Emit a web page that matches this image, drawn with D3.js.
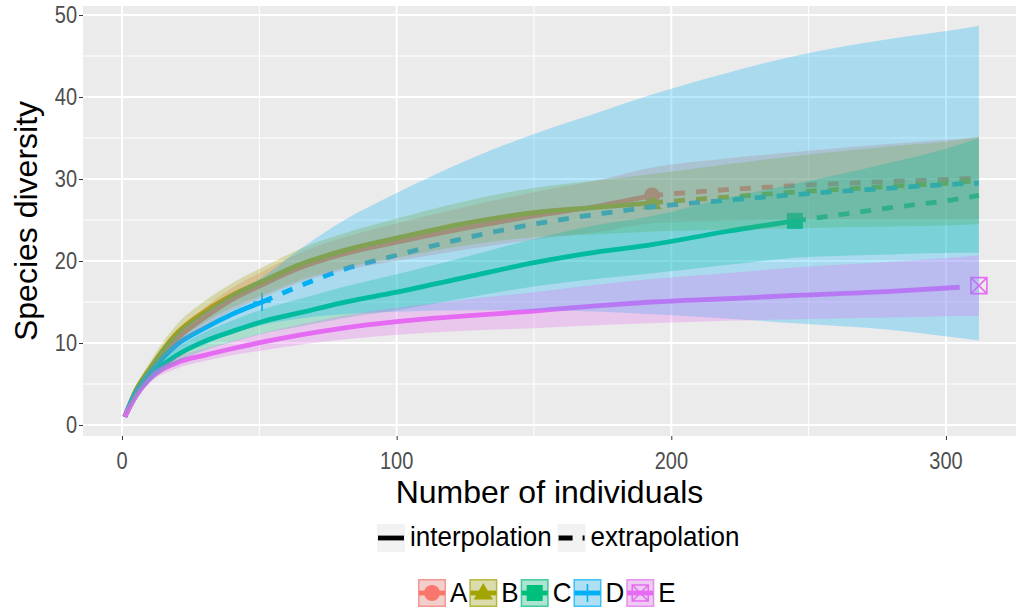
<!DOCTYPE html>
<html>
<head>
<meta charset="utf-8">
<script src="https://cdn.jsdelivr.net/npm/d3@7"></script>
<style>
  body { margin: 0; background: #fff; }
  text { font-family: "Liberation Sans", Arial, Helvetica, sans-serif; }
</style>
</head>
<body>
<svg id="chart" width="1016" height="615"></svg>
<script>
// sample sizes (number of individuals) shared by every site
var sizes = [1, 5, 10, 20, 30, 40, 51, 65, 80, 100, 125, 150, 175, 193, 220, 245, 280, 305, 312];

var sites = ["A", "B", "C", "D", "E"];
var colors = ["#F8766D", "#A3A500", "#00BF7D", "#00B0F6", "#E76BF3"];

// observed (reference) sample for each site
var observedSize = [193, 193, 245, 51, 312];
var observedDiv = [28.0, 27.1, 24.9, 15.0, 17.0];

// estimated diversity and its confidence band
var estA = [1, 4.0, 6.5, 10.5, 13.1, 15.3, 17.1, 19.2, 20.8, 22.3, 24.0, 25.5, 26.8, 28.0, 28.7, 29.2, 29.7, 30.0, 30.1];
var loA  = [1, 3.6, 5.8, 9.5, 11.9, 13.9, 15.5, 17.4, 18.8, 20.0, 21.4, 22.6, 23.6, 24.6, 24.9, 25.1, 25.1, 25.1, 25.1];
var hiA  = [1, 4.4, 7.2, 11.5, 14.3, 16.7, 18.7, 21.0, 22.8, 24.6, 26.6, 28.4, 30.0, 31.4, 32.5, 33.3, 34.3, 34.9, 35.1];

var estB = [1, 4.2, 6.8, 11.2, 13.8, 15.8, 17.5, 19.6, 21.2, 22.8, 24.6, 25.9, 26.6, 27.1, 27.8, 28.4, 29.1, 29.6, 29.8];
var loB  = [1, 3.8, 6.0, 10.1, 12.5, 14.3, 15.8, 17.7, 19.1, 20.4, 21.9, 22.9, 23.3, 23.6, 23.8, 24.0, 24.2, 24.4, 24.5];
var hiB  = [1, 4.6, 7.6, 12.3, 15.1, 17.3, 19.2, 21.5, 23.3, 25.2, 27.3, 28.9, 29.9, 30.6, 31.8, 32.8, 34.0, 34.8, 35.2];

var estC = [1, 3.5, 5.8, 8.5, 10.2, 11.4, 12.6, 13.7, 14.9, 16.2, 18.0, 19.8, 21.2, 22.0, 23.6, 24.9, 26.5, 27.6, 28.0];
var loC  = [1, 3.2, 5.2, 7.6, 9.1, 10.1, 11.1, 12.0, 13.0, 14.0, 15.5, 16.9, 17.9, 18.5, 19.5, 20.4, 20.8, 21.0, 21.0];
var hiC  = [1, 3.8, 6.4, 9.4, 11.3, 12.7, 14.1, 15.4, 16.8, 18.4, 20.5, 22.7, 24.5, 25.5, 27.7, 29.4, 32.0, 34.2, 35.0];

var estD = [1, 4.0, 6.3, 9.8, 11.8, 13.5, 15.0, 17.0, 18.9, 20.7, 22.8, 24.5, 25.8, 26.6, 27.4, 28.1, 28.9, 29.4, 29.5];
var loD  = [1, 3.5, 5.4, 8.3, 9.8, 11.1, 12.2, 13.0, 13.5, 13.8, 14.0, 14.0, 13.8, 13.5, 13.0, 12.4, 11.6, 10.6, 10.3];
var hiD  = [1, 4.5, 7.2, 11.3, 13.8, 16.0, 18.0, 21.5, 24.8, 28.3, 32.2, 35.5, 38.3, 40.3, 42.9, 45.0, 47.1, 48.3, 48.7];

var estE = [1, 3.5, 5.6, 7.6, 8.5, 9.3, 10.1, 11.0, 11.8, 12.6, 13.3, 13.9, 14.6, 15.0, 15.4, 15.8, 16.3, 16.8, null];
var loE  = [1, 3.2, 5.1, 6.9, 7.8, 8.5, 9.1, 9.8, 10.4, 11.0, 11.5, 11.8, 12.2, 12.4, 12.7, 12.9, 13.1, 13.3, 13.3];
var hiE  = [1, 3.8, 6.1, 8.3, 9.3, 10.2, 11.2, 12.3, 13.3, 14.3, 15.3, 16.2, 17.2, 17.8, 18.5, 19.2, 19.9, 20.5, 20.7];

var xTicks = [0, 100, 200, 300];
var yTicks = [0, 10, 20, 30, 40, 50];
var xMinor = [50, 150, 250];
var yMinor = [5, 15, 25, 35, 45];
var methods = ["interpolation", "extrapolation"];

var est = [estA, estB, estC, estD, estE];
var lo = [loA, loB, loC, loD, loE];
var hi = [hiA, hiB, hiC, hiD, hiE];

var panel = {left: 83, right: 1016, top: 6, bottom: 436};
var bandAlpha = 0.28;
var lineWidth = 4.8;
var tall = 1.08;     // the source picture is a little stretched vertically
var tallTick = 1.15;

var svg = d3.select("#chart");
var x = d3.scaleLinear().domain([-14.2, 325.5]).range([panel.left, panel.right]);
var y = d3.scaleLinear().domain([-1.34, 51.1]).range([panel.bottom, panel.top]);

svg.append("defs").append("clipPath").attr("id", "clip")
   .append("rect").attr("x", panel.left).attr("y", panel.top)
   .attr("width", panel.right - panel.left).attr("height", panel.bottom - panel.top);

// panel background + grid
svg.append("rect").attr("x", panel.left).attr("y", panel.top)
   .attr("width", panel.right - panel.left).attr("height", panel.bottom - panel.top)
   .attr("fill", "#EBEBEB");

var grid = svg.append("g");
grid.selectAll(".xminor").data(xMinor).enter().append("line")
    .attr("x1", d => x(d)).attr("x2", d => x(d)).attr("y1", panel.top).attr("y2", panel.bottom)
    .attr("stroke", "#fff").attr("stroke-width", 1);
grid.selectAll(".yminor").data(yMinor).enter().append("line")
    .attr("y1", d => y(d)).attr("y2", d => y(d)).attr("x1", panel.left).attr("x2", panel.right)
    .attr("stroke", "#fff").attr("stroke-width", 1);
grid.selectAll(".xmajor").data(xTicks).enter().append("line")
    .attr("x1", d => x(d)).attr("x2", d => x(d)).attr("y1", panel.top).attr("y2", panel.bottom)
    .attr("stroke", "#fff").attr("stroke-width", 2);
grid.selectAll(".ymajor").data(yTicks).enter().append("line")
    .attr("y1", d => y(d)).attr("y2", d => y(d)).attr("x1", panel.left).attr("x2", panel.right)
    .attr("stroke", "#fff").attr("stroke-width", 2);

// markers for one site
function drawShape(g, i, cx, cy) {
  var c = colors[i];
  if (i === 0) {
    g.append("circle").attr("cx", cx).attr("cy", cy).attr("r", 8).attr("fill", c);
  } else if (i === 1) {
    g.append("path").attr("d", d3.symbol(d3.symbolTriangle, 160)())
     .attr("transform", "translate(" + cx + "," + (cy + 1) + ")").attr("fill", c);
  } else if (i === 2) {
    g.append("rect").attr("x", cx - 8).attr("y", cy - 8).attr("width", 16).attr("height", 16).attr("fill", c);
  } else if (i === 3) {
    g.append("path").attr("d", "M" + (cx - 9) + "," + cy + "H" + (cx + 9) + "M" + cx + "," + (cy - 9) + "V" + (cy + 9))
     .attr("stroke", c).attr("stroke-width", 1.6).attr("fill", "none");
  } else {
    g.append("path")
     .attr("d", "M" + (cx - 8) + "," + (cy - 8) + "h16v16h-16z" +
                "M" + (cx - 8) + "," + (cy - 8) + "l16,16M" + (cx + 8) + "," + (cy - 8) + "l-16,16")
     .attr("stroke", c).attr("stroke-width", 1.6).attr("fill", "none");
  }
}

var plot = svg.append("g").attr("clip-path", "url(#clip)");

// reference points first (ribbons are painted over them, as in the original)
var pts = plot.append("g");
sites.forEach(function(s, i) {
  drawShape(pts, i, x(observedSize[i]), y(observedDiv[i]));
});

// interpolation / extrapolation lines
var line = d3.line()
  .defined(d => d.v !== null)
  .x(d => x(d.n)).y(d => y(d.v))
  .curve(d3.curveMonotoneX);

sites.forEach(function(s, i) {
  var rows = sizes.map((n, k) => ({n: n, v: est[i][k]}));
  var inter = rows.filter(d => d.n <= observedSize[i] && d.v !== null);
  var extra = rows.filter(d => d.n >= observedSize[i] && d.v !== null);
  plot.append("path").attr("d", line(inter))
      .attr("fill", "none").attr("stroke", colors[i]).attr("stroke-width", lineWidth);
  if (extra.length > 1) {
    plot.append("path").attr("d", line(extra))
        .attr("fill", "none").attr("stroke", colors[i]).attr("stroke-width", lineWidth)
        .attr("stroke-dasharray", "11,11");
  }
});

// confidence ribbons
var area = d3.area()
  .x(d => x(d.n)).y0(d => y(d.lo)).y1(d => y(d.hi))
  .curve(d3.curveMonotoneX);

sites.forEach(function(s, i) {
  var rows = sizes.map((n, k) => ({n: n, lo: lo[i][k], hi: hi[i][k]}));
  plot.append("path").attr("d", area(rows))
      .attr("fill", colors[i]).attr("fill-opacity", bandAlpha);
});

// axes (ticks from d3, labels redrawn so they can be stretched like the source)
var xAxis = svg.append("g").attr("transform", "translate(0," + panel.bottom + ")")
  .call(d3.axisBottom(x).tickValues(xTicks).tickSize(4));
var yAxis = svg.append("g").attr("transform", "translate(" + panel.left + ",0)")
  .call(d3.axisLeft(y).tickValues(yTicks).tickSize(4));
[xAxis, yAxis].forEach(function(a) {
  a.select(".domain").remove();
  a.selectAll(".tick line").attr("stroke", "#333333");
  a.selectAll(".tick text").remove();
});

svg.append("g").selectAll("text").data(xTicks).enter().append("text")
   .attr("transform", d => "translate(" + x(d) + ",469) scale(1," + tallTick + ")")
   .attr("text-anchor", "middle").attr("fill", "#4D4D4D").style("font-size", "20px")
   .text(d => d);
svg.append("g").selectAll("text").data(yTicks).enter().append("text")
   .attr("transform", d => "translate(77," + (y(d) + 8) + ") scale(1," + tallTick + ")")
   .attr("text-anchor", "end").attr("fill", "#4D4D4D").style("font-size", "20px")
   .text(d => d);

svg.append("text")
   .attr("x", (panel.left + panel.right) / 2).attr("y", 503)
   .attr("text-anchor", "middle").style("font-size", "32px").attr("fill", "#000")
   .text("Number of individuals");

svg.append("text")
   .attr("transform", "translate(37," + ((panel.top + panel.bottom) / 2) + ") rotate(-90)")
   .attr("text-anchor", "middle").style("font-size", "32px").attr("fill", "#000")
   .text("Species diversity");

// legend: line type
var keyW = 28, keyH = 28;
var leg1 = svg.append("g");
var lx = 377, ly1 = 538;
methods.forEach(function(m, k) {
  var g = leg1.append("g").attr("transform", "translate(" + lx + "," + (ly1 - keyH / 2) + ")");
  g.append("rect").attr("width", keyW).attr("height", keyH).attr("fill", "#F2F2F2");
  g.append("line").attr("x1", 1).attr("x2", keyW - 1).attr("y1", keyH / 2).attr("y2", keyH / 2)
   .attr("stroke", "#000").attr("stroke-width", lineWidth)
   .attr("stroke-dasharray", k === 1 ? "14,10" : null);
  var t = leg1.append("text")
   .attr("transform", "translate(" + (lx + keyW + 5) + "," + (ly1 + 8) + ") scale(1," + tall + ")")
   .style("font-size", "26px").attr("fill", "#000").text(m);
  lx += keyW + 5 + t.node().getComputedTextLength() + 6;
});

// legend: sites
var leg2 = svg.append("g");
var sx = 418, ly2 = 593;
sites.forEach(function(s, i) {
  var g = leg2.append("g");
  g.append("rect").attr("x", sx).attr("y", ly2 - keyH / 2).attr("width", keyW).attr("height", keyH)
   .attr("fill", "#F2F2F2");
  drawShape(g, i, sx + keyW / 2, ly2);
  g.append("line").attr("x1", sx + 1).attr("x2", sx + keyW - 1).attr("y1", ly2).attr("y2", ly2)
   .attr("stroke", colors[i]).attr("stroke-width", lineWidth);
  g.append("rect").attr("x", sx + 0.75).attr("y", ly2 - keyH / 2 + 0.75)
   .attr("width", keyW - 1.5).attr("height", keyH - 1.5)
   .attr("fill", colors[i]).attr("fill-opacity", bandAlpha)
   .attr("stroke", colors[i]).attr("stroke-width", 1.5).attr("stroke-opacity", 0.7);
  var t = leg2.append("text")
   .attr("transform", "translate(" + (sx + keyW + 4) + "," + (ly2 + 9) + ") scale(1," + tall + ")")
   .style("font-size", "26px").attr("fill", "#000").text(s);
  sx += keyW + 4 + t.node().getComputedTextLength() + 2;
});
</script>
</body>
</html>
